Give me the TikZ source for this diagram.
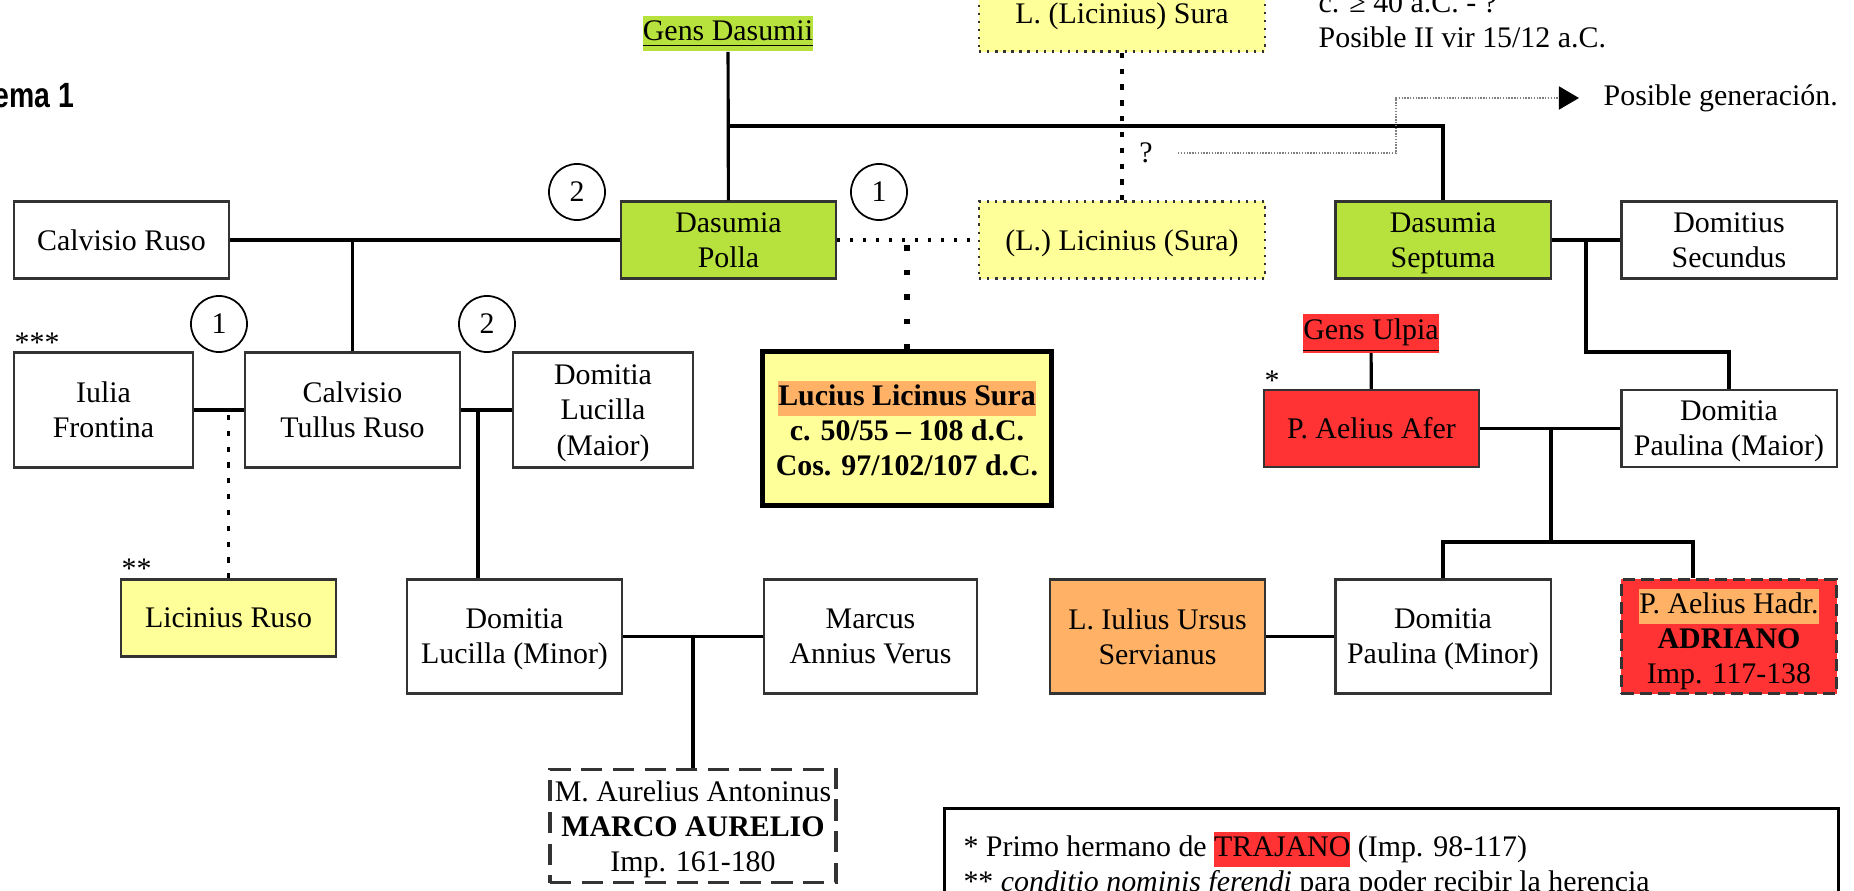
\documentclass[tikz,border=0pt]{standalone}
\usepackage{fontspec}
\setmainfont{Liberation Serif}
\setsansfont{Liberation Sans}
\usetikzlibrary{arrows.meta}
\definecolor{verde}{RGB}{183,225,61}
\definecolor{amarillo}{RGB}{255,255,153}
\definecolor{naranja}{RGB}{255,178,102}
\definecolor{rojo}{RGB}{255,51,51}
\newcommand{\tamano}{\fontsize{8.5pt}{10pt}\selectfont}
\newcommand{\sinp}[1]{\raisebox{0pt}[\height][0pt]{#1}}
\setlength{\fboxsep}{0pt}
\begin{document}
\begin{tikzpicture}[x=0.01cm,y=-0.01cm,font=\tamano]
  \tikzset{ caja/.style={draw=black!80,line width=0.6pt,minimum width=2.15cm,minimum height=0.77cm,inner sep=0pt,align=center},
    alta/.style={caja,minimum height=1.15cm},
    punteada/.style={caja,fill=amarillo,minimum width=2.86cm,dash pattern=on 0.7pt off 1.6pt,line width=0.7pt},
    num/.style={circle,draw,line width=0.5pt,minimum size=0.56cm,inner sep=0pt},
    rel/.style={line width=0.9pt},
    pto/.style={line width=0.9pt,dash pattern=on 0.9pt off 2.8pt},
    ptoG/.style={line width=1.5pt,dash pattern=on 1.5pt off 5.5pt},
    ptoV/.style={line width=1pt,dash pattern=on 1.5pt off 3pt},
    fino/.style={gray,line width=0.5pt,dash pattern=on 0.4pt off 0.4pt},
  }
  \useasboundingbox (0,0) rectangle (1854,891);

  \node[anchor=east,inner sep=0pt,font=\fontsize{9.5pt}{10pt}\sffamily\bfseries] (esq) at (75,99) {\scalebox{0.85}[1.05]{Esquema 1}};
  \node[fill=verde,inner sep=0pt] (gD) at (728,33.5) {\strut\underline{Gens Dasumii}};
  \node[punteada] (lsT) at (1122,13) {\sinp{L. (Licinius) Sura}};
  \node[anchor=west,align=left,inner sep=0pt] (nota) at (1318,20.5) {c. ≥ 40 a.C. - ?\\Posible II vir 15/12 a.C.};
  \node (q) at (1146,153) {?};
  \node[anchor=west,inner sep=0pt] (pg) at (1603,98) {Posible generación.};

  % primera fila
  \node[caja] (cR) at (121.5,240) {Calvisio Ruso};
  \node[caja,fill=verde] (dP) at (728.5,240) {Dasumia\\Polla};
  \node[punteada] (lS) at (1122,240) {\sinp{(L.) Licinius (Sura)}};
  \node[caja,fill=verde] (dS) at (1443,240) {Dasumia\\\sinp{Septuma}};
  \node[caja] (dSe) at (1729,240) {Domitius\\Secundus};

  \node[num] (n2a) at (577,192) {2};
  \node[num] (n1a) at (879,192) {1};
  \node[num] (n1b) at (219,324) {1};
  \node[num] (n2b) at (487,324) {2};

  % segunda fila
  \node[anchor=west,inner sep=0pt] (as3) at (14,343) {***};
  \node[alta,minimum width=1.79cm] (iF) at (103.5,410) {Iulia\\Frontina};
  \node[alta] (cT) at (352.5,410) {Calvisio\\Tullus Ruso};
  \node[alta,minimum width=1.8cm] (dLM) at (603,410) {Domitia\\Lucilla\\\sinp{(Maior)}};
  \node[caja,draw=black,line width=1.4pt,fill=amarillo,minimum width=2.88cm,minimum height=1.54cm,font=\tamano\bfseries] (lLS) at (907,428.5)
    {\colorbox{naranja}{\strut Lucius Licinus Sura}\\c. 50/55 – 108 d.C.\\Cos. 97/102/107 d.C.};
  \node[fill=rojo,inner sep=0pt] (gU) at (1371,333.5) {\strut\underline{Gens Ulpia}};
  \node (as1) at (1272,381) {*};
  \node[caja,fill=rojo] (pAA) at (1371.5,428.5) {P. Aelius Afer};
  \node[caja] (dPM) at (1729,428.5) {Domitia\\\sinp{Paulina (Maior)}};

  % tercera fila
  \node[anchor=west,inner sep=0pt] (as2) at (121,569) {**};
  \node[caja,fill=amarillo] (lR) at (228.5,618) {Licinius Ruso};
  \node[alta,minimum height=1.14cm] (dLm) at (514.5,636.5) {Domitia\\\sinp{Lucilla (Minor)}};
  \node[alta,minimum height=1.14cm,minimum width=2.13cm] (mA) at (870.5,636.5) {Marcus\\Annius Verus};
  \node[alta,minimum height=1.14cm,fill=naranja] (lU) at (1157.5,636.5) {L. Iulius Ursus\\Servianus};
  \node[alta,minimum height=1.14cm] (dPm) at (1443,636.5) {Domitia\\\sinp{Paulina (Minor)}};
  \node[alta,minimum height=1.14cm,fill=rojo,line width=0.7pt,dash pattern=on 3.5pt off 1.7pt] (pAH) at (1729,636.5)
    {\colorbox{naranja}{\strut P. Aelius Hadr.}\\\textbf{ADRIANO}\\\sinp{Imp. 117-138}};
  \node[caja,minimum width=2.86cm,minimum height=1.13cm,line width=1pt,dash pattern=on 6pt off 3pt] (mAu) at (693,826)
    {M. Aurelius Antoninus\\\textbf{MARCO AURELIO}\\\sinp{Imp. 161-180}};

  \node[draw,line width=0.85pt,anchor=north west,inner xsep=0.19cm,inner ysep=0.235cm] (ley) at (943,807)
    {\parbox[t][1.4cm][t]{8.55cm}{\strut * Primo hermano de \colorbox{rojo}{\strut TRAJANO} (Imp. 98-117)\\
     \relax ** \textit{conditio nominis ferendi} para poder recibir la herencia}};

  % las uniones
  \draw[rel] (gD) -- (dP);
  \coordinate (a1) at (728.5,126);
  \draw[rel] (a1) -| (dS);
  \draw[rel] (cR) -- (dP);
  \draw[rel] (cT) -- (cT |- cR);
  \draw[pto] (dP) -- (lS);
  \draw[ptoG] (lLS) -- (lLS |- dP);
  \draw[ptoV] (lsT) -- (lS);
  \draw[rel] (dS) -- (dSe);
  \coordinate (a2) at (1586,240);
  \draw[rel] (a2) -- ++(0,112) -| (dPM);
  \draw[rel] (gU) -- (pAA);
  \draw[rel] (pAA) -- (dPM);
  \coordinate (a3) at (1551,428.5);
  \coordinate (a4) at (1693,542);
  \draw[rel] (a3) -- (a3 |- a4);
  \draw[rel] (dPm) |- (a4) -- (a4 |- pAH.north);
  \draw[rel] (iF) -- (cT);
  \draw[ptoV] (lR) -- (lR |- iF);
  \draw[rel] (cT) -- (dLM);
  \coordinate (a5) at (478,410);
  \draw[rel] (a5) -- (a5 |- dLm.north);
  \draw[rel] (dLm) -- (mA);
  \draw[rel] (mAu) -- (mAu |- dLm);
  \draw[rel] (lU) -- (dPm);

  % la posible generacion
  \coordinate (a6) at (1396,98);
  \draw[fino,-{Triangle[length=0.2cm,width=0.23cm,color=black]}] ([xshift=0.13cm]q.east) -| (a6) -- ([xshift=-0.24cm]pg.west);
\end{tikzpicture}
\end{document}
